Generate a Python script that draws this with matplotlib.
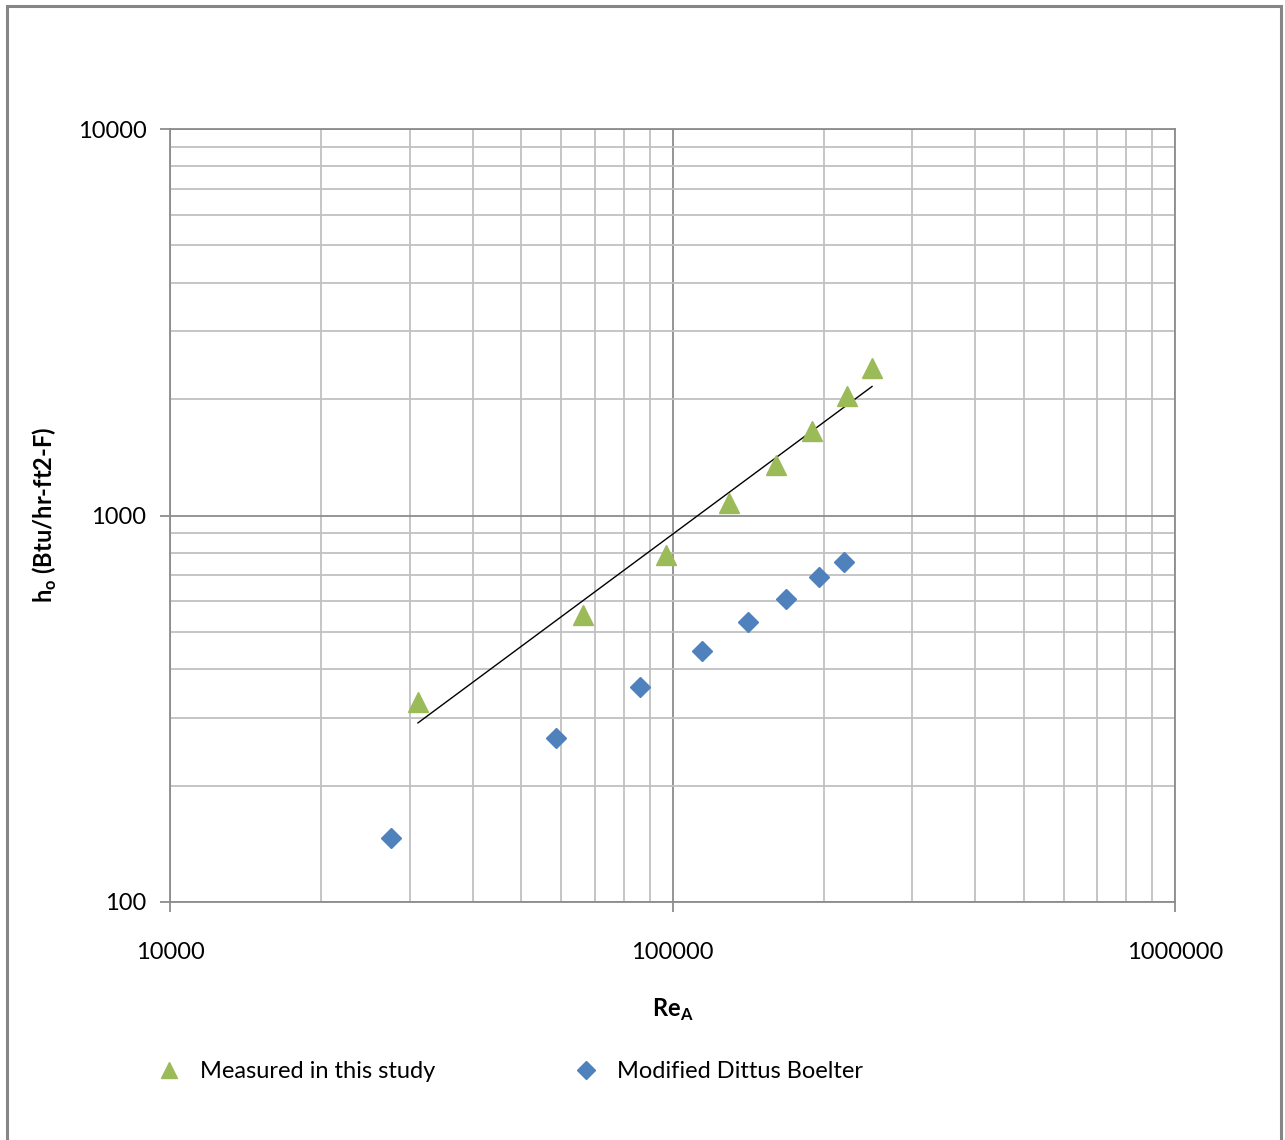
import numpy as np
import matplotlib
matplotlib.use("Agg")
import matplotlib.pyplot as plt
from matplotlib.lines import Line2D
from matplotlib.patches import Rectangle
from matplotlib.ticker import LogLocator, NullFormatter, FixedLocator, FixedFormatter

# ---- data ----
re_measured = [31150, 66400, 97000, 129600, 160700, 189500, 222400, 249500]
h_measured = [329, 553, 790, 1077, 1351, 1654, 2038, 2408]
re_dittus = [27500, 58600, 86200, 114500, 141300, 168200, 195600, 219500]
h_dittus = [146, 266, 360, 446, 530, 608, 693, 758]
x_ticks = [10000, 100000, 1000000]
y_ticks = [100, 1000, 10000]
x_tick_labels = ["10000", "100000", "1000000"]
y_tick_labels = ["100", "1000", "10000"]

plt.rcParams['font.family'] = ['Lato', 'DejaVu Sans']

W, H = 1285, 1140
fig = plt.figure(figsize=(W / 100, H / 100), dpi=100)
ax = fig.add_axes([170 / W, 1 - 902 / H, (1175 - 170) / W, (902 - 129) / H])

ax.set_xscale('log')
ax.set_yscale('log')
ax.set_xlim(10000, 1000000)
ax.set_ylim(100, 10000)

minor_col = '#c0c0c0'
major_col = '#8c8c8c'
ax.xaxis.set_major_locator(FixedLocator(x_ticks))
ax.xaxis.set_major_formatter(FixedFormatter(x_tick_labels))
ax.yaxis.set_major_locator(FixedLocator(y_ticks))
ax.yaxis.set_major_formatter(FixedFormatter(y_tick_labels))
ax.xaxis.set_minor_locator(LogLocator(base=10, subs=np.arange(2, 10)))
ax.yaxis.set_minor_locator(LogLocator(base=10, subs=np.arange(2, 10)))
ax.xaxis.set_minor_formatter(NullFormatter())
ax.yaxis.set_minor_formatter(NullFormatter())
ax.grid(True, which='minor', color=minor_col, linewidth=1.3)
ax.grid(True, which='major', color=major_col, linewidth=1.3)
ax.set_axisbelow(True)
ax.tick_params(which='minor', length=0)
ax.tick_params(which='major', length=7, width=1.3, color=major_col, labelsize=17, colors='black')
ax.tick_params(axis='x', which='major', pad=22)
ax.tick_params(axis='y', which='major', pad=10)
for s in ax.spines.values():
    s.set_color(major_col)
    s.set_linewidth(1.3)

# trend line (power-law fit of measured data)
lx = np.log10(re_measured)
ly = np.log10(h_measured)
b, a = np.polyfit(lx, ly, 1)
xt = np.array([min(re_measured), max(re_measured)])
ax.plot(xt, 10 ** (a + b * np.log10(xt)), color='black', linewidth=1.0, zorder=3)

ax.plot(re_measured, h_measured, linestyle='none', marker='^', ms=14,
        color='#9bbb59', zorder=4)
ax.plot(re_dittus, h_dittus, linestyle='none', marker='D', ms=10,
        color='#4f81bd', zorder=4)

fig.text(673 / W, 1 - 1010 / H, r'Re$_\mathregular{A}$', ha='center', va='center',
         fontsize=17, fontweight='bold')
fig.text(45 / W, 1 - 515 / H, r'h$_\mathregular{o}$ (Btu/hr-ft2-F)', ha='center', va='center',
         rotation=90, fontsize=17, fontweight='bold')

# legend
handles = [Line2D([], [], linestyle='none', marker='^', ms=12, color='#9bbb59'),
           Line2D([], [], linestyle='none', marker='D', ms=9, color='#4f81bd')]
fig.legend(handles, ['Measured in this study', 'Modified Dittus Boelter'],
           loc='center left', bbox_to_anchor=(136 / W, 1 - 1072 / H), ncol=2,
           frameon=False, fontsize=17, handletextpad=0.8, columnspacing=5.9,
           handlelength=1.0)

fig.add_artist(Rectangle((7 / W, -20 / H), (1281 - 7) / W, (1134 + 20) / H,
                         transform=fig.transFigure, fill=False,
                         edgecolor='#868686', linewidth=2.2, clip_on=False))

fig.savefig('out.png', dpi=100)
